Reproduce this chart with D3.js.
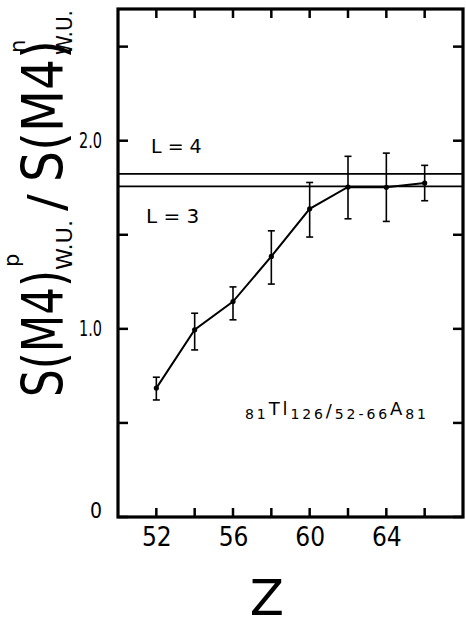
<!DOCTYPE html>
<html lang="en">
<head>
    <meta charset="UTF-8">
    <title>S(M4) ratio vs Z</title>
    <script type="text/javascript" src="https://cdn.jsdelivr.net/npm/d3@7/dist/d3.min.js"></script>
    <style>
        body { margin: 0; background: #fff; }
        svg { font-family: "DejaVu Sans", sans-serif; }
        .axis path { display: none; }
        .axis text {
            font-family: "DejaVu Sans Condensed", "DejaVu Sans", sans-serif;
            fill: #000;
        }
        .xaxis text { font-size: 26px; }
        .yaxis text { font-size: 21px; }
    </style>
</head>
<body>
<script type="text/javascript">
    let width = 466;
    let height = 621;

    // data
    let zValues = [52, 54, 56, 58, 60, 62, 64, 66];
    let ratio = [0.685, 0.995, 1.145, 1.385, 1.638, 1.754, 1.752, 1.775];
    let errHigh = [0.058, 0.088, 0.078, 0.136, 0.14, 0.163, 0.182, 0.094];
    let errLow = [0.063, 0.107, 0.097, 0.147, 0.15, 0.169, 0.181, 0.094];
    let limitValues = [1.824, 1.757];
    let limitLabels = ['L = 4', 'L = 3'];
    let xTicks = [52, 54, 56, 58, 60, 62, 64, 66];
    let xLabels = [52, 56, 60, 64];
    let yTicks = [0, 0.5, 1.0, 1.5, 2.0, 2.5];
    let yLabels = {0: '0', 1: '1.0', 2: '2.0'};

    let mLeft = 118, mRight = 463, mTop = 9, mBottom = 517;

    let svg = d3.select('body')
        .append('svg')
        .attr('width', width)
        .attr('height', height);

    let x = d3.scaleLinear().domain([50, 68]).range([mLeft, mRight]);
    let y = d3.scaleLinear().domain([0, 2.7]).range([mBottom, mTop]);

    // axis labels
    svg.append('g')
        .attr('class', 'axis xaxis')
        .attr('transform', 'translate(0,' + mBottom + ')')
        .call(d3.axisBottom(x).tickValues(xLabels).tickSize(0).tickPadding(11));
    svg.append('g')
        .attr('class', 'axis yaxis')
        .attr('transform', 'translate(' + mLeft + ',0)')
        .call(d3.axisLeft(y).tickValues([0, 1, 2]).tickSize(0).tickPadding(16)
            .tickFormat(d => yLabels[d]))
        .call(g => g.selectAll('.tick text')
            .filter(d => d > 0)
            .attr('textLength', 23)
            .attr('lengthAdjust', 'spacingAndGlyphs'))
        .call(g => g.selectAll('.tick text')
            .filter(d => d === 0)
            .attr('dy', '0.0em'));

    // inward tick marks on all four sides
    let ticks = svg.append('g')
        .attr('stroke', '#000')
        .attr('stroke-width', 2.5);
    ticks.selectAll('.xb')
        .data(xTicks).enter().append('line')
        .attr('x1', d => x(d)).attr('x2', d => x(d))
        .attr('y1', mBottom).attr('y2', mBottom - 9);
    ticks.selectAll('.xt')
        .data(xTicks).enter().append('line')
        .attr('x1', d => x(d)).attr('x2', d => x(d))
        .attr('y1', mTop).attr('y2', mTop + 9);
    ticks.selectAll('.yl')
        .data(yTicks).enter().append('line')
        .attr('x1', mLeft).attr('x2', mLeft + 10)
        .attr('y1', d => y(d)).attr('y2', d => y(d));
    ticks.selectAll('.yr')
        .data(yTicks).enter().append('line')
        .attr('x1', mRight).attr('x2', mRight - 10)
        .attr('y1', d => y(d)).attr('y2', d => y(d));

    // frame
    svg.append('rect')
        .attr('x', mLeft)
        .attr('y', mTop)
        .attr('width', mRight - mLeft)
        .attr('height', mBottom - mTop)
        .attr('fill', 'none')
        .attr('stroke', '#000')
        .attr('stroke-width', 3.2);

    // L = 4 / L = 3 lines
    svg.selectAll('.limit')
        .data(limitValues)
        .enter()
        .append('line')
        .attr('x1', mLeft)
        .attr('x2', mRight)
        .attr('y1', d => y(d))
        .attr('y2', d => y(d))
        .attr('stroke', '#000')
        .attr('stroke-width', 1.8);

    svg.append('text')
        .attr('x', 151).attr('y', 153)
        .attr('font-size', 19)
        .text(limitLabels[0]);
    svg.append('text')
        .attr('x', 146).attr('y', 223)
        .attr('font-size', 20)
        .text(limitLabels[1]);

    let points = zValues.map((z, i) => ({z: z, v: ratio[i], hi: errHigh[i], lo: errLow[i]}));

    // error bars
    let eb = svg.selectAll('.err')
        .data(points)
        .enter()
        .append('g')
        .attr('stroke', '#000')
        .attr('stroke-width', 1.6);
    eb.append('line')
        .attr('x1', d => x(d.z)).attr('x2', d => x(d.z))
        .attr('y1', d => y(d.v + d.hi)).attr('y2', d => y(d.v - d.lo));
    eb.append('line')
        .attr('x1', d => x(d.z) - 3.5).attr('x2', d => x(d.z) + 3.5)
        .attr('y1', d => y(d.v + d.hi)).attr('y2', d => y(d.v + d.hi));
    eb.append('line')
        .attr('x1', d => x(d.z) - 3.5).attr('x2', d => x(d.z) + 3.5)
        .attr('y1', d => y(d.v - d.lo)).attr('y2', d => y(d.v - d.lo));

    // connecting line
    svg.append('path')
        .datum(points)
        .attr('fill', 'none')
        .attr('stroke', '#000')
        .attr('stroke-width', 2)
        .attr('d', d3.line().x(d => x(d.z)).y(d => y(d.v)));

    svg.selectAll('.pt')
        .data(points)
        .enter()
        .append('circle')
        .attr('cx', d => x(d.z))
        .attr('cy', d => y(d.v))
        .attr('r', 2.6)
        .attr('fill', '#000');

    // annotation 81Tl126/52-66A81
    let ann = svg.append('text')
        .attr('x', 245).attr('y', 419)
        .attr('font-size', 14)
        .attr('letter-spacing', 2.9);
    ann.append('tspan').text('81');
    ann.append('tspan').attr('font-size', 18).attr('dy', -4).text('Tl');
    ann.append('tspan').attr('dy', 4).text('126');
    ann.append('tspan').attr('font-size', 18).attr('dy', -2).text('/');
    ann.append('tspan').attr('dy', 2).text('52-66');
    ann.append('tspan').attr('font-size', 18).attr('dy', -4).text('A');
    ann.append('tspan').attr('dy', 4).text('81');

    // x title
    svg.append('text')
        .attr('x', 267).attr('y', 615)
        .attr('text-anchor', 'middle')
        .attr('font-size', 50)
        .text('Z');

    // y title, rotated, pieces placed along the baseline
    let yt = svg.append('g')
        .attr('transform', 'translate(63,397) rotate(-90)');
    let big = [{t: 'S(M4)', x: 0, len: 127}, {t: 'S(M4)', x: 215, len: 142}];
    big.forEach(b => {
        yt.append('text')
            .attr('x', b.x).attr('y', 0)
            .attr('font-size', 57)
            .attr('textLength', b.len)
            .attr('lengthAdjust', 'spacingAndGlyphs')
            .text(b.t);
    });
    yt.append('text')
        .attr('x', 186).attr('y', 0)
        .attr('font-size', 50)
        .text('/');
    let scripts = [
        {sup: 'p', sx: 130, sy: -44, x: 127, len: 50},
        {sup: 'n', sx: 344, sy: -38, x: 342, len: 45}
    ];
    scripts.forEach(s => {
        yt.append('text')
            .attr('x', s.sx).attr('y', s.sy)
            .attr('font-size', 21)
            .text(s.sup);
        yt.append('text')
            .attr('x', s.x).attr('y', 9)
            .attr('font-size', 22)
            .attr('textLength', s.len)
            .attr('lengthAdjust', 'spacingAndGlyphs')
            .text('W.U.');
    });
</script>
</body>
</html>
